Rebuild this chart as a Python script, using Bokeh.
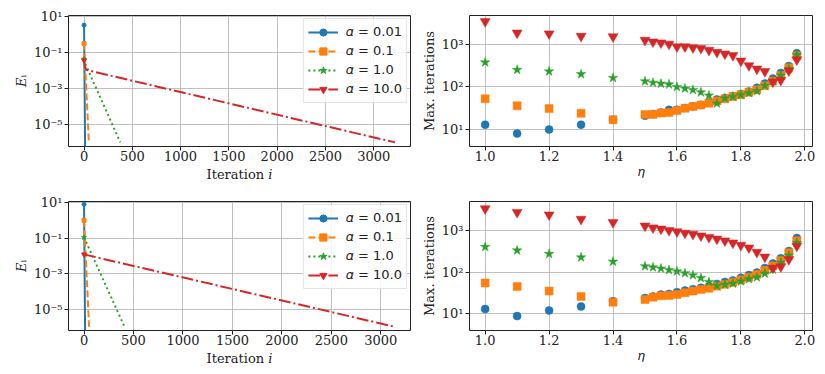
from bokeh.plotting import figure
from bokeh.layouts import column, row
from bokeh.models import (Range1d, FixedTicker, CustomJSTickFormatter, PrintfTickFormatter,
                          Legend, LegendItem, ColumnDataSource)
from bokeh.embed import file_html
from bokeh.resources import INLINE

# ---------------- data ----------------
COLORS = ["#1f77b4", "#ff7f0e", "#2ca02c", "#d62728"]
labels = ["𝛼 = 0.01", "𝛼 = 0.1", "𝛼 = 1.0", "𝛼 = 10.0"]

# top-left: error vs iteration
tl_x = [[0, 12], [0, 50], [0, 20, 375], [0, 10, 25, 3220]]
tl_y = [[3.5, 1e-7], [0.33, 1e-6], [0.045, 0.02, 1e-6], [0.038, 0.015, 0.011, 1e-6]]
# bottom-left
bl_x = [[0, 12], [0, 51], [0, 409], [0, 3140]]
bl_y = [[8.0, 1e-7], [1.0, 1e-6], [0.11, 1e-6], [0.012, 1e-6]]

eta = [1.0, 1.1, 1.2, 1.3, 1.4, 1.5, 1.525, 1.55, 1.575, 1.6, 1.625, 1.65, 1.675,
       1.7, 1.725, 1.75, 1.775, 1.8, 1.825, 1.85, 1.875, 1.9, 1.925, 1.95, 1.975]

tr_blue = [13, 8, 10, 13, 17, 21, 23, 25, 29, 29, 32, 35, 38, 43, 51, 55, 61, 68, 78, 96, 121, 157, 214, 310, 620]
tr_orange = [53, 36, 31, 24, 17, 22.6, 22.6, 24.5, 25, 28, 31.6, 34.6, 37.6, 41.6, 47, 52.5, 59.6, 66, 75, 86, 107, 138, 186, 281, 540]
tr_green = [380, 253, 232, 200, 163, 136, 126, 120, 115, 100, 92, 85, 75, 63, 41, 54, 59, 65, 72, 80, 107, 136, 186, 266, 560]
tr_red = [3460, 1860, 1780, 1560, 1520, 1260, 1150, 1090, 1020, 885, 885, 840, 810, 730, 655, 600, 550, 410, 318, 266, 232, 132, 144, 240, 437]

br_blue = [13, 8.8, 12, 15, 20, 24, 26, 29, 30, 33, 36, 39, 42, 46, 52, 58, 63, 73, 85, 97, 125, 160, 215, 320, 650]
br_orange = [55, 45, 35, 26, 19, 22, 25, 27, 27.5, 29, 32, 35, 38, 41, 46, 51, 57, 65, 75, 88, 110, 140, 190, 290, 560]
br_green = [400, 330, 272, 225, 178, 138, 130, 122, 112, 104, 94, 84, 72, 58, 47, 50, 53, 60, 68, 75, 92, 115, 170, 250, 500]
br_red = [3300, 2700, 2350, 1850, 1550, 1270, 1150, 1080, 1000, 930, 860, 810, 740, 680, 620, 560, 500, 440, 380, 300, 230, 125, 135, 200, 420]

left_yticks = [1e-5, 1e-3, 1e-1, 10]
left_xticks = [0, 500, 1000, 1500, 2000, 2500, 3000]
right_yticks = [10, 100, 1000]
right_xticks = [1.0, 1.2, 1.4, 1.6, 1.8, 2.0]

SERIF = "DejaVu Serif"
SANS = "DejaVu Sans"

sup_fmt = CustomJSTickFormatter(code="""
const sup = {'0':'⁰','1':'¹','2':'²','3':'³','4':'⁴','5':'⁵','6':'⁶','7':'⁷','8':'⁸','9':'⁹','-':'⁻'};
const e = Math.round(Math.log10(tick));
return '10' + String(e).split('').map(c => sup[c]).join('');
""")


def style(p, xticks, yticks, xfmt, xlabel_standoff):
    p.outline_line_color = "#222222"
    p.outline_line_width = 1
    for ax in (p.xaxis[0], p.yaxis[0]):
        ax.axis_line_color = None
        ax.major_tick_line_color = "#222222"
        ax.major_tick_out = 4
        ax.major_tick_in = 0
        ax.minor_tick_line_color = None
        ax.major_label_text_font = SERIF
        ax.major_label_text_font_size = "13px"
        ax.major_label_text_color = "#222222"
        ax.axis_label_text_font = SERIF
        ax.axis_label_text_font_size = "13px"
        ax.axis_label_text_font_style = "normal"
        ax.axis_label_text_color = "#222222"
        ax.major_label_standoff = 2
        ax.axis_label_standoff = 2
    p.xaxis[0].major_label_standoff = 0
    p.xaxis[0].axis_label_standoff = xlabel_standoff
    p.xaxis[0].ticker = FixedTicker(ticks=xticks, minor_ticks=[])
    p.yaxis[0].ticker = FixedTicker(ticks=yticks, minor_ticks=[])
    p.xaxis[0].formatter = xfmt
    p.yaxis[0].formatter = sup_fmt
    p.xgrid.ticker = FixedTicker(ticks=xticks, minor_ticks=[])
    p.ygrid.ticker = FixedTicker(ticks=yticks, minor_ticks=[])
    for g in (p.xgrid[0], p.ygrid[0]):
        g.grid_line_color = "#b0b0b0"
        g.grid_line_width = 0.8
    p.background_fill_color = "white"
    p.border_fill_color = "white"


def left_plot(xs, ys, xr, yr, size, borders):
    l, r, t, b = borders
    p = figure(width=size[0], height=size[1], y_axis_type="log", output_backend="svg",
               toolbar_location=None, x_range=Range1d(*xr), y_range=Range1d(*yr),
               min_border_left=l, min_border_right=r, min_border_top=t, min_border_bottom=b)
    style(p, left_xticks, left_yticks, PrintfTickFormatter(format="%d"), 3)
    p.xaxis.axis_label = "Iteration 𝑖"
    p.yaxis.axis_label = "𝐸ᵢ"
    dashes = ["solid", "7 3", "2 3", "12 3 2 3"]
    markers = ["circle", "square", "star", "inverted_triangle"]
    msizes = [4, 4, 5, 5]
    items = []
    for k in range(4):
        src = ColumnDataSource(dict(x=xs[k], y=ys[k]))
        lr = p.line("x", "y", source=src, color=COLORS[k], line_width=2, line_dash=dashes[k])
        first = ColumnDataSource(dict(x=xs[k][:1], y=ys[k][:1]))
        sr = p.scatter("x", "y", source=first, marker=markers[k], size=msizes[k], color=COLORS[k])
        items.append(LegendItem(label=labels[k], renderers=[lr, sr]))
    leg = Legend(items=items, location="top_right", margin=3, padding=4, spacing=1,
                 label_height=18, glyph_height=18, glyph_width=30, label_standoff=8,
                 label_text_font=SANS, label_text_font_size="13px", label_text_color="#222222",
                 border_line_color="#cccccc", border_line_width=1,
                 background_fill_alpha=0.85)
    p.add_layout(leg, "center")
    return p


def right_plot(series, yr, size, borders):
    l, r, t, b = borders
    p = figure(width=size[0], height=size[1], y_axis_type="log", output_backend="svg",
               toolbar_location=None, x_range=Range1d(0.951, 2.024), y_range=Range1d(*yr),
               min_border_left=l, min_border_right=r, min_border_top=t, min_border_bottom=b)
    style(p, right_xticks, right_yticks, PrintfTickFormatter(format="%.1f"), 0)
    p.xaxis.axis_label = "𝜂"
    p.yaxis.axis_label = "Max. iterations"
    markers = ["circle", "square", "star", "inverted_triangle"]
    sizes = [8, 8, 10, 10]
    for k in range(4):
        src = ColumnDataSource(dict(x=eta, y=series[k]))
        p.scatter("x", "y", source=src, marker=markers[k], size=sizes[k],
                  fill_color=COLORS[k], line_color=COLORS[k], line_width=0.5)
    return p


tl = left_plot(tl_x, tl_y, (-161, 3381), (10 ** -6.23, 10 ** 1.08), (418, 188), (68, 8, 15, 42))
bl = left_plot(bl_x, bl_y, (-157, 3300), (10 ** -6.21, 10 ** 1.06), (418, 180), (68, 8, 13, 37))
tr = right_plot([tr_blue, tr_orange, tr_green, tr_red], (10 ** 0.6, 10 ** 3.68), (400, 188), (51, 6, 12, 42))
br = right_plot([br_blue, br_orange, br_green, br_red], (10 ** 0.6, 10 ** 3.69), (400, 180), (51, 6, 8, 37))

layout = column(row(tl, tr), row(bl, br))
open("out.html", "w").write(file_html(layout, INLINE))
